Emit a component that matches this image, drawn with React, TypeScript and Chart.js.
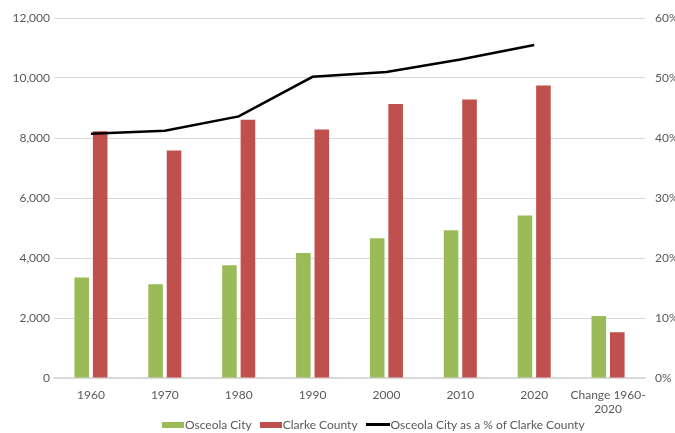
import React, { useEffect, useRef } from "react";
import { Chart, registerables } from "chart.js";

Chart.register(...registerables);

// Population figures by census year, plus the 1960–2020 change
const categories: (string | string[])[] = ["1960", "1970", "1980", "1990", "2000", "2010", "2020", ["Change 1960-", "2020"]];
const osceolaCity: number[] = [3350, 3124, 3755, 4164, 4659, 4929, 5415, 2065];
const clarkeCounty: number[] = [8222, 7581, 8612, 8287, 9133, 9286, 9748, 1526];
// Osceola City as a share of Clarke County, in percent
const sharePct: (number | null)[] = [40.7, 41.2, 43.6, 50.2, 51.0, 53.1, 55.5, null];

const leftTicks = { min: 0, max: 12000, step: 2000 };
const rightTicks = { min: 0, max: 60, step: 10 };

const GREEN = "#9BBB59";
const RED = "#C0504D";
const TEXT = "#595959";
const GRID = "#D9D9D9";
const FONT = "Lato, 'Liberation Sans', sans-serif";

export default function App() {
  const canvasRef = useRef<HTMLCanvasElement | null>(null);

  useEffect(() => {
    if (!canvasRef.current) return;
    const chart = new Chart(canvasRef.current, {
      type: "bar",
      data: {
        labels: categories,
        datasets: [
          {
            type: "line",
            label: "Osceola City as a % of Clarke County",
            data: sharePct,
            yAxisID: "y1",
            borderColor: "#000000",
            backgroundColor: "#000000",
            borderWidth: 2.5,
            pointRadius: 0,
            tension: 0,
            order: 0,
          },
          {
            type: "bar",
            label: "Osceola City",
            data: osceolaCity,
            yAxisID: "y",
            backgroundColor: GREEN,
            categoryPercentage: 0.5,
            barPercentage: 0.79,
            order: 1,
          },
          {
            type: "bar",
            label: "Clarke County",
            data: clarkeCounty,
            yAxisID: "y",
            backgroundColor: RED,
            categoryPercentage: 0.5,
            barPercentage: 0.79,
            order: 1,
          },
        ],
      },
      options: {
        responsive: false,
        animation: false,
        layout: { padding: { top: 18, bottom: 0, left: 0, right: 0 } },
        plugins: {
          legend: { display: false },
          tooltip: { enabled: false },
        },
        scales: {
          x: {
            grid: { display: false },
            border: { display: true, color: GRID, width: 1.5 },
            ticks: {
              color: TEXT,
              font: { family: FONT, size: 12 },
              padding: 2,
              maxRotation: 0,
              autoSkip: false,
            },
            afterFit: (scale: any) => {
              scale.height = 55;
            },
          },
          y: {
            position: "left",
            min: leftTicks.min,
            max: leftTicks.max,
            grid: { color: GRID, lineWidth: 1, drawTicks: false },
            border: { display: false },
            ticks: {
              stepSize: leftTicks.step,
              color: TEXT,
              font: { family: FONT, size: 12 },
              padding: 4,
              callback: (v: any) => Number(v).toLocaleString("en-US"),
            },
            afterFit: (scale: any) => {
              scale.width = 54;
            },
          },
          y1: {
            position: "right",
            min: rightTicks.min,
            max: rightTicks.max,
            grid: { display: false, drawTicks: false },
            border: { display: false },
            ticks: {
              stepSize: rightTicks.step,
              color: TEXT,
              font: { family: FONT, size: 12 },
              padding: 10,
              callback: (v: any) => `${v}%`,
            },
            afterFit: (scale: any) => {
              scale.width = 30;
            },
          },
        },
      },
    });
    return () => chart.destroy();
  }, []);

  const legendItem = (swatch: React.ReactNode, text: string) => (
    <div style={{ display: "flex", alignItems: "center", marginRight: 8 }}>
      {swatch}
      <span style={{ marginLeft: 1 }}>{text}</span>
    </div>
  );

  return (
    <div style={{ position: "fixed", left: 0, top: 0, width: 675, height: 433, background: "#ffffff", overflow: "hidden" }}>
      <canvas ref={canvasRef} width={675} height={433} style={{ display: "block" }} />
      <div
        style={{
          position: "absolute",
          left: 162,
          top: 417,
          display: "flex",
          alignItems: "center",
          fontFamily: FONT,
          fontSize: 12,
          color: TEXT,
          whiteSpace: "nowrap",
          lineHeight: "15px",
        }}
      >
        {legendItem(<div style={{ width: 22, height: 6, background: GREEN }} />, "Osceola City")}
        {legendItem(<div style={{ width: 22, height: 6, background: RED }} />, "Clarke County")}
        {legendItem(<div style={{ width: 24, height: 2.5, background: "#000000" }} />, "Osceola City as a % of Clarke County")}
      </div>
    </div>
  );
}
